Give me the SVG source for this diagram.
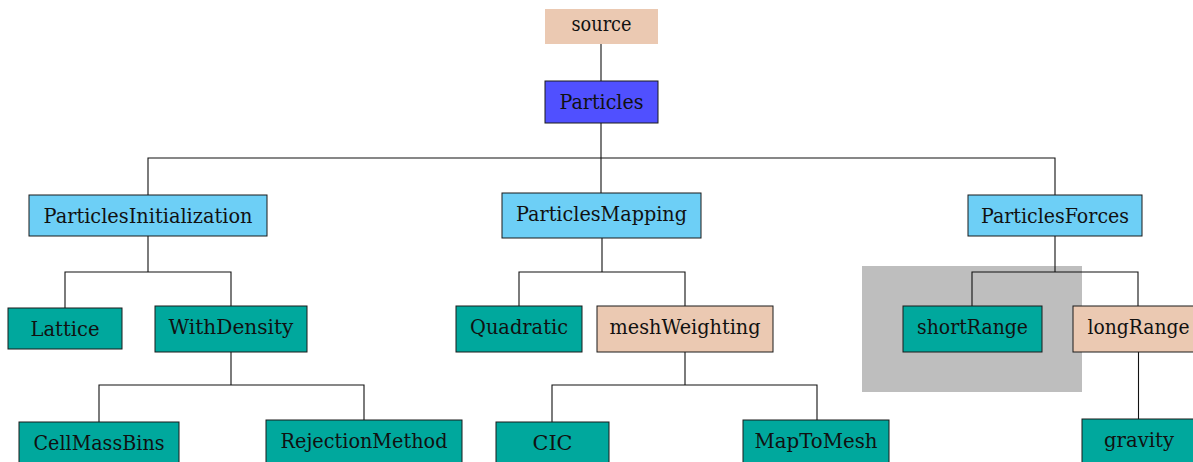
<svg xmlns="http://www.w3.org/2000/svg" width="1193" height="462" viewBox="0 0 1193 462">
  <style>
    .box { stroke: #1a1a1a; stroke-width: 1; }
    .peach { fill: #EBC9B2; }
    .blue { fill: #5050FF; }
    .sky { fill: #6DCFF6; }
    .teal { fill: #00A89D; }
    .lbl { font-family: "DejaVu Serif", "Liberation Serif", serif; font-size: 20px; fill: #111; text-anchor: middle; }
    .wire { fill: none; stroke: #111; stroke-width: 1.1; }
  </style>
  <rect width="1193" height="462" fill="#ffffff"/>

  <!-- highlight area behind the short-range branch -->
  <rect id="shortRangeHighlight" x="862" y="266" width="220" height="126" fill="#BEBEBE"/>

  <g id="connectors">
    <path class="wire" d="M601 44 V81"/>
    <path class="wire" d="M601 123 V193 M148 195 V158 H1055 V195"/>
    <path class="wire" d="M148 236 V272 M65 308 V272 H231 V306"/>
    <path class="wire" d="M231 352 V385 M99 422 V385 H364 V420"/>
    <path class="wire" d="M602 238 V272 M519 306 V272 H685 V306"/>
    <path class="wire" d="M685 352 V385 M552 422 V385 H817 V420"/>
    <path class="wire" d="M1055 236 V272 M972 306 V272 H1138 V306"/>
    <path class="wire" d="M1138.5 352 V419"/>
  </g>

  <g id="source">
    <rect class="peach" x="545" y="9" width="113" height="35"/>
    <text class="lbl" x="601.5" y="31" textLength="60" lengthAdjust="spacingAndGlyphs">source</text>
  </g>
  <g id="Particles">
    <rect class="box blue" x="545" y="81" width="113" height="42"/>
    <text class="lbl" x="601.5" y="109" textLength="84" lengthAdjust="spacingAndGlyphs">Particles</text>
  </g>

  <g id="ParticlesInitialization">
    <rect class="box sky" x="29" y="195" width="238" height="41"/>
    <text class="lbl" x="148" y="223" textLength="209" lengthAdjust="spacingAndGlyphs">ParticlesInitialization</text>
  </g>
  <g id="ParticlesMapping">
    <rect class="box sky" x="502" y="193" width="199" height="45"/>
    <text class="lbl" x="601.5" y="221" textLength="171" lengthAdjust="spacingAndGlyphs">ParticlesMapping</text>
  </g>
  <g id="ParticlesForces">
    <rect class="box sky" x="968" y="195" width="174" height="41"/>
    <text class="lbl" x="1055" y="223" textLength="148" lengthAdjust="spacingAndGlyphs">ParticlesForces</text>
  </g>

  <g id="Lattice">
    <rect class="box teal" x="8" y="308" width="114" height="41"/>
    <text class="lbl" x="65" y="336" textLength="69" lengthAdjust="spacingAndGlyphs">Lattice</text>
  </g>
  <g id="WithDensity">
    <rect class="box teal" x="155" y="306" width="152" height="46"/>
    <text class="lbl" x="231" y="334" textLength="125" lengthAdjust="spacingAndGlyphs">WithDensity</text>
  </g>
  <g id="Quadratic">
    <rect class="box teal" x="456" y="306" width="126" height="46"/>
    <text class="lbl" x="519" y="334" textLength="98" lengthAdjust="spacingAndGlyphs">Quadratic</text>
  </g>
  <g id="meshWeighting">
    <rect class="box peach" x="597" y="306" width="176" height="46"/>
    <text class="lbl" x="685" y="334" textLength="151" lengthAdjust="spacingAndGlyphs">meshWeighting</text>
  </g>
  <g id="shortRange">
    <rect class="box teal" x="903" y="306" width="139" height="46"/>
    <text class="lbl" x="972.5" y="334" textLength="111" lengthAdjust="spacingAndGlyphs">shortRange</text>
  </g>
  <g id="longRange">
    <rect class="box peach" x="1073" y="306" width="131" height="46"/>
    <text class="lbl" x="1138.5" y="334" textLength="102" lengthAdjust="spacingAndGlyphs">longRange</text>
  </g>

  <g id="CellMassBins">
    <rect class="box teal" x="19" y="422" width="160" height="46"/>
    <text class="lbl" x="99" y="450" textLength="131" lengthAdjust="spacingAndGlyphs">CellMassBins</text>
  </g>
  <g id="RejectionMethod">
    <rect class="box teal" x="266" y="420" width="196" height="48"/>
    <text class="lbl" x="364" y="448" textLength="167" lengthAdjust="spacingAndGlyphs">RejectionMethod</text>
  </g>
  <g id="CIC">
    <rect class="box teal" x="496" y="422" width="113" height="46"/>
    <text class="lbl" x="552.5" y="450" textLength="40" lengthAdjust="spacingAndGlyphs">CIC</text>
  </g>
  <g id="MapToMesh">
    <rect class="box teal" x="743" y="420" width="146" height="48"/>
    <text class="lbl" x="816" y="448" textLength="123" lengthAdjust="spacingAndGlyphs">MapToMesh</text>
  </g>
  <g id="gravity">
    <rect class="box teal" x="1082" y="419" width="114" height="48"/>
    <text class="lbl" x="1139" y="447" textLength="70" lengthAdjust="spacingAndGlyphs">gravity</text>
  </g>
</svg>
